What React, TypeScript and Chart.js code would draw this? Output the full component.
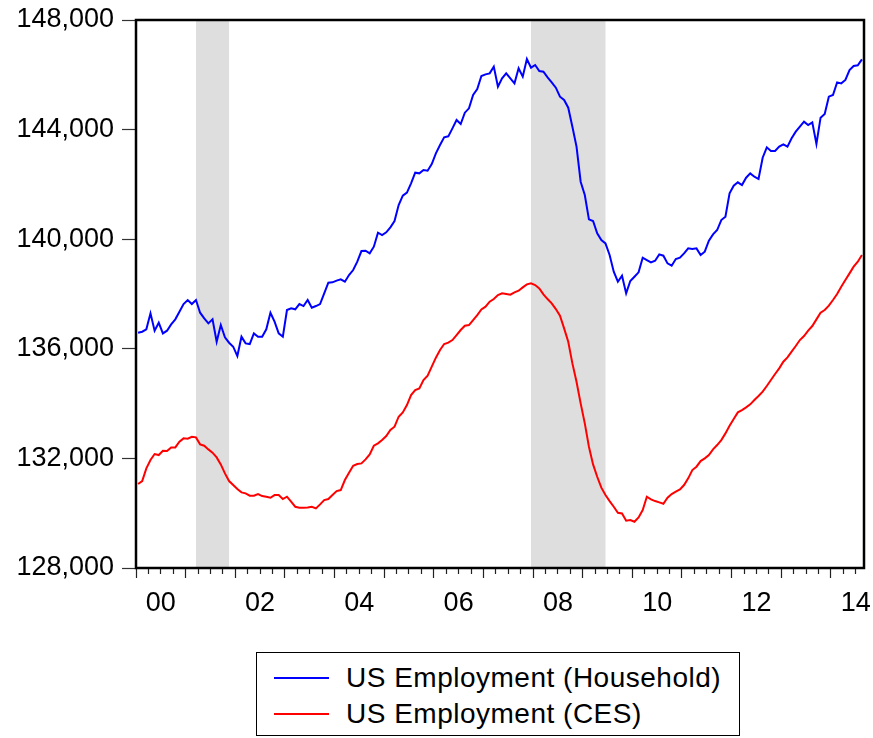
import React, { useEffect, useRef } from 'react';
import { Chart, registerables } from 'chart.js';

Chart.register(...registerables);

// Monthly data, Jan 2000 .. Aug 2014 (thousands of persons)
const START_YEAR = 2000;

const household = [
  136587, 136624, 136710, 137293, 136660, 136952, 136563, 136660, 136892, 137075, 137353, 137634,
  137780, 137634, 137780, 137317, 137110, 136928, 137075, 136258, 136867, 136417, 136222, 136076,
  135736, 136441, 136198, 136174, 136563, 136441, 136441, 136710, 137317, 136989, 136563, 136441,
  137415, 137476, 137440, 137634, 137561, 137780, 137500, 137561, 137634, 138024, 138414, 138425,
  138488, 138534, 138449, 138692, 138875, 139179, 139568, 139580, 139483, 139727, 140238, 140152,
  140250, 140432, 140664, 141248, 141588, 141698, 142038, 142428, 142403, 142525, 142501, 142744,
  143133, 143437, 143717, 143754, 144046, 144350, 144204, 144618, 144776, 145263, 145481, 145956,
  146017, 146053, 146297, 145567, 145871, 146053, 145871, 145688, 146236, 145932, 146577, 146260,
  146357, 146138, 146114, 145907, 145725, 145530, 145202, 145080, 144800, 144107, 143377, 142099,
  141612, 140724, 140663, 140213, 139970, 139848, 139422, 138814, 138449, 138668, 138023, 138473,
  138631, 138790, 139325, 139240, 139155, 139216, 139447, 139398, 139118, 139033, 139277, 139325,
  139483, 139666, 139641, 139666, 139422, 139544, 139945, 140177, 140335, 140700, 140822, 141673,
  141953, 142075, 141978, 142245, 142403, 142282, 142197, 142975, 143352, 143218, 143218, 143377,
  143462, 143377, 143681, 143924, 144107, 144289, 144167, 144265, 143474, 144435, 144569, 145202,
  145263, 145725, 145688, 145810, 146175, 146321, 146345, 146564,
];

const ces = [
  131064, 131173, 131636, 131940, 132159, 132122, 132281, 132268, 132402, 132402, 132609, 132731,
  132719, 132791, 132767, 132512, 132463, 132329, 132208, 132037, 131782, 131453, 131173, 131027,
  130881, 130760, 130723, 130638, 130638, 130699, 130626, 130602, 130565, 130662, 130662, 130516,
  130602, 130419, 130236, 130200, 130200, 130212, 130236, 130176, 130322, 130480, 130516, 130662,
  130808, 130845, 131210, 131478, 131733, 131794, 131818, 131964, 132147, 132463, 132548, 132670,
  132816, 133035, 133157, 133522, 133680, 133947, 134312, 134495, 134556, 134860, 135018, 135347,
  135675, 135955, 136174, 136223, 136320, 136503, 136685, 136843, 136868, 137050, 137232, 137439,
  137537, 137719, 137817, 137963, 138023, 137999, 137975, 138060, 138121, 138242, 138352, 138388,
  138327, 138206, 137987, 137816, 137658, 137451, 137208, 136746, 136259, 135468, 134799, 134008,
  133278, 132426, 131782, 131331, 130931, 130663, 130443, 130236, 130017, 129993, 129726, 129750,
  129689, 129847, 130115, 130601, 130504, 130443, 130395, 130346, 130565, 130699, 130784, 130869,
  131027, 131271, 131575, 131697, 131903, 132001, 132122, 132329, 132487, 132670, 132913, 133193,
  133436, 133680, 133765, 133862, 133972, 134130, 134276, 134434, 134641, 134860, 135079, 135286,
  135529, 135687, 135894, 136101, 136320, 136466, 136661, 136831, 137074, 137317, 137415, 137573,
  137780, 137999, 138267, 138510, 138753, 138996, 139179, 139422,
];

const seriesNames = ['US Employment (Household)', 'US Employment (CES)'];
const seriesColors = ['#0000ff', '#ff0000'];

const yTickValues = [128000, 132000, 136000, 140000, 144000, 148000];
const xTickLabels = ['00', '02', '04', '06', '08', '10', '12', '14'];

// Recession periods (first month, last month)
const recessionStarts = ['2001-03', '2007-12'];
const recessionEnds = ['2001-11', '2009-06'];

const FONT = "'Liberation Sans', Arial, Helvetica, sans-serif";

const monthX = (i: number) => START_YEAR + (i + 0.5) / 12;
const ymX = (s: string) => {
  const [y, m] = s.split('-').map(Number);
  return y + (m - 1 + 0.5) / 12;
};
const labelFor = (v: number) => {
  for (const l of xTickLabels) {
    const yr = START_YEAR + parseInt(l, 10);
    if (Math.abs(v - (yr + 0.5)) < 1e-6) return l;
  }
  return '';
};

const shadingPlugin = {
  id: 'recessionShading',
  beforeDatasetsDraw(chart: any) {
    const { ctx, chartArea, scales } = chart;
    ctx.save();
    ctx.fillStyle = '#dedede';
    recessionStarts.forEach((s, k) => {
      const x1 = scales.x.getPixelForValue(ymX(s));
      const x2 = scales.x.getPixelForValue(ymX(recessionEnds[k]));
      ctx.fillRect(x1, chartArea.top, x2 - x1, chartArea.bottom - chartArea.top);
    });
    ctx.restore();
  },
};

const framePlugin = {
  id: 'frame',
  afterDatasetsDraw(chart: any) {
    const { ctx, chartArea } = chart;
    ctx.save();
    ctx.strokeStyle = '#000';
    ctx.lineWidth = 2.5;
    ctx.strokeRect(chartArea.left, chartArea.top, chartArea.right - chartArea.left, chartArea.bottom - chartArea.top);
    ctx.restore();
  },
};

export default function App() {
  const canvasRef = useRef<HTMLCanvasElement>(null);

  useEffect(() => {
    document.body.style.margin = '0';
    const canvas = canvasRef.current;
    if (!canvas) return;
    const nMonths = household.length;
    const chart = new Chart(canvas, {
      type: 'line',
      data: {
        datasets: [
          {
            label: seriesNames[0],
            data: household.map((v, i) => ({ x: monthX(i), y: v })),
            borderColor: seriesColors[0],
            borderWidth: 2,
            pointRadius: 0,
            tension: 0,
          },
          {
            label: seriesNames[1],
            data: ces.map((v, i) => ({ x: monthX(i), y: v })),
            borderColor: seriesColors[1],
            borderWidth: 2,
            pointRadius: 0,
            tension: 0,
          },
        ],
      },
      options: {
        animation: false,
        responsive: false,
        devicePixelRatio: 1,
        layout: { padding: { top: 20, right: 9, left: 0, bottom: 0 } },
        plugins: {
          legend: { display: false },
          title: { display: false },
          tooltip: { enabled: false },
        },
        scales: {
          x: {
            type: 'linear',
            position: 'bottom',
            min: START_YEAR,
            max: START_YEAR + nMonths / 12,
            afterBuildTicks: (scale: any) => {
              const t = [];
              for (let k = 0; START_YEAR + k / 4 <= START_YEAR + nMonths / 12 + 1e-9; k++) {
                t.push({ value: START_YEAR + k / 4 });
              }
              scale.ticks = t;
            },
            afterFit: (scale: any) => {
              scale.height = 72;
              scale.paddingLeft = 0;
              scale.paddingRight = 0;
            },
            border: { display: false },
            grid: {
              display: true,
              drawOnChartArea: false,
              drawTicks: true,
              tickLength: 10,
              tickColor: '#222',
              tickWidth: 1.2,
              tickBorderDash: (ctx: any) => {
                const v = ctx.tick ? ctx.tick.value : 0;
                const isMajor = Math.abs(v - Math.round(v)) < 1e-6;
                return isMajor ? [] : [6, 100];
              },
            },
            ticks: {
              autoSkip: false,
              maxRotation: 0,
              minRotation: 0,
              padding: 9,
              color: '#000',
              font: { family: FONT, size: 27 },
              callback: (v: any) => labelFor(Number(v)),
            },
          },
          y: {
            type: 'linear',
            min: 128000,
            max: 148000,
            afterBuildTicks: (scale: any) => {
              scale.ticks = yTickValues.map((v) => ({ value: v }));
            },
            afterFit: (scale: any) => {
              scale.width = 136;
              scale.paddingTop = 0;
              scale.paddingBottom = 0;
            },
            border: { display: false },
            grid: {
              display: true,
              drawOnChartArea: false,
              drawTicks: true,
              tickLength: 14,
              tickColor: '#333',
              tickWidth: 1.2,
            },
            ticks: {
              padding: 8,
              color: '#000',
              font: { family: FONT, size: 27 },
              callback: (v: any) => Number(v).toLocaleString('en-US'),
            },
          },
        },
      },
      plugins: [shadingPlugin, framePlugin],
    });
    return () => chart.destroy();
  }, []);

  const legendRow = (i: number, top: number) => (
    <div key={i} style={{ position: 'absolute', left: 0, top, height: 36, width: '100%' }}>
      <div
        style={{
          position: 'absolute',
          left: 17,
          top: 17,
          width: 55,
          height: 2,
          background: seriesColors[i],
        }}
      />
      <div
        style={{
          position: 'absolute',
          left: 89,
          top: 0,
          lineHeight: '36px',
          fontFamily: FONT,
          fontSize: 28,
          letterSpacing: '0.5px',
          color: '#000',
          whiteSpace: 'nowrap',
        }}
      >
        {seriesNames[i]}
      </div>
    </div>
  );

  return (
    <div style={{ position: 'relative', width: 873, height: 738, background: '#fff', overflow: 'hidden' }}>
      <canvas ref={canvasRef} width={873} height={640} style={{ position: 'absolute', left: 0, top: 0, display: 'block' }} />
      <div
        style={{
          position: 'absolute',
          left: 256,
          top: 652,
          width: 484,
          height: 84,
          border: '1.5px solid #000',
          boxSizing: 'border-box',
          background: '#fff',
        }}
      >
        {legendRow(0, 7)}
        {legendRow(1, 43)}
      </div>
    </div>
  );
}
